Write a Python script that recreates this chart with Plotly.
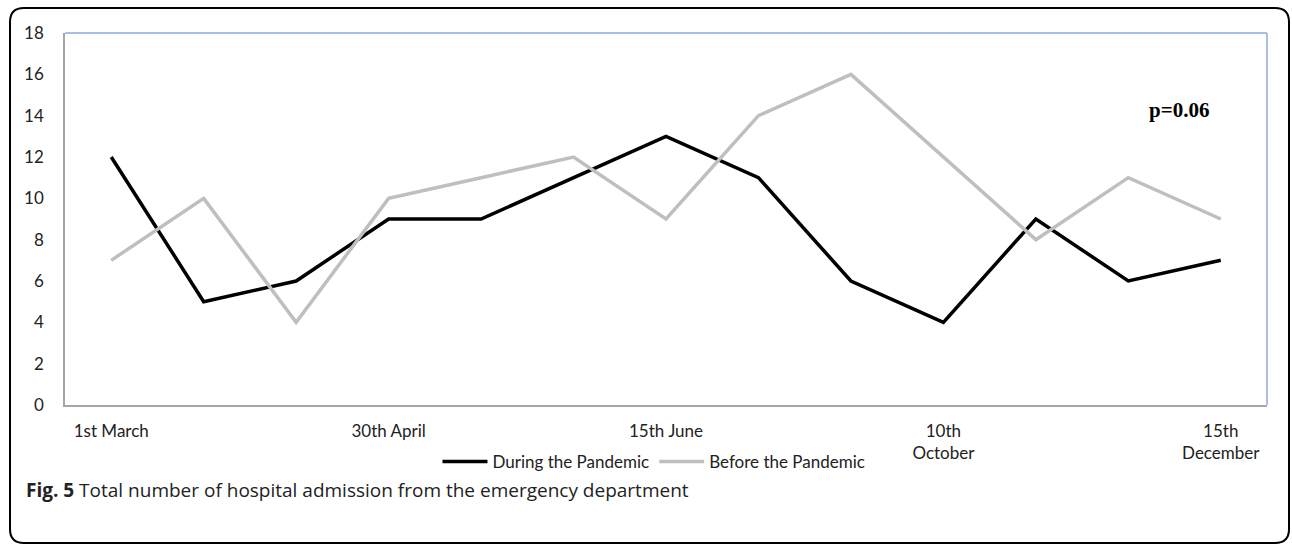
import plotly.graph_objects as go

categories = ["1st March", "c2", "c3", "30th April", "c5", "c6", "15th June",
              "c8", "c9", "10th<br>October", "c11", "c12", "15th<br>December"]
tick_labels = ["1st March", "", "", "30th April", "", "", "15th June",
               "", "", "10th<br>October", "", "", "15th<br>December"]
during = [12, 5, 6, 9, 9, 11, 13, 11, 6, 4, 9, 6, 7]
before = [7, 10, 4, 10, 11, 12, 9, 14, 16, 12, 8, 11, 9]

W, H = 1292, 546
L, R, T, B = 65, 25, 33, 141

fig = go.Figure()
fig.add_trace(go.Scatter(x=categories, y=during, mode="lines", name="During the Pandemic",
                         line=dict(color="black", width=3.5)))
fig.add_trace(go.Scatter(x=categories, y=before, mode="lines", name="Before the Pandemic",
                         line=dict(color="#bfbfbf", width=3.5)))

axfont = dict(family="Lato, Open Sans, sans-serif", size=17, color="#222")
pw, ph = W - L - R, H - T - B
fig.update_layout(
    width=W, height=H,
    margin=dict(l=L, r=R, t=T, b=B, autoexpand=False),
    paper_bgcolor="white", plot_bgcolor="white",
    showlegend=True,
    legend=dict(orientation="h", x=0.49, xanchor="center", y=-57 / ph, yanchor="middle",
                font=axfont, traceorder="normal", itemwidth=45),
    xaxis=dict(type="category", range=[-0.5, 12.5], tickmode="array",
               tickvals=categories, ticktext=tick_labels, showgrid=False,
               showline=True, linecolor="#a6a6a6", linewidth=1.5, ticks="",
               tickfont=axfont, mirror=False, ticklabelstandoff=10),
    yaxis=dict(range=[0, 18], dtick=2, showgrid=False, showline=True,
               linecolor="#a6a6a6", linewidth=1.5, ticks="", tickfont=axfont,
               ticklabelstandoff=16),
)
# blue border on top and right
fig.add_shape(type="line", xref="paper", yref="paper", x0=0, x1=1, y0=1, y1=1,
              line=dict(color="#8eaadb", width=1.5))
fig.add_shape(type="line", xref="paper", yref="paper", x0=1, x1=1, y0=0, y1=1,
              line=dict(color="#8eaadb", width=1.5))

fig.add_annotation(x=11.55, y=14.27, xref="x", yref="y", text="<b>p=0.06</b>", showarrow=False,
                   font=dict(family="Liberation Serif, serif", size=21, color="black"))

def px(x): return (x - L) / pw
def py(y): return (H - B - y) / ph
x0, x1, y0, y1, r = 10, 1289, 8, 543, 14
path = (f"M {px(x0+r)},{py(y0)} L {px(x1-r)},{py(y0)} "
        f"Q {px(x1)},{py(y0)} {px(x1)},{py(y0+r)} "
        f"L {px(x1)},{py(y1-r)} Q {px(x1)},{py(y1)} {px(x1-r)},{py(y1)} "
        f"L {px(x0+r)},{py(y1)} Q {px(x0)},{py(y1)} {px(x0)},{py(y1-r)} "
        f"L {px(x0)},{py(y0+r)} Q {px(x0)},{py(y0)} {px(x0+r)},{py(y0)} Z")
fig.add_shape(type="path", xref="paper", yref="paper", path=path,
              line=dict(color="black", width=2))

fig.add_annotation(xref="paper", yref="paper", x=px(24), y=py(490), xanchor="left",
                   yanchor="middle", showarrow=False,
                   text="<b>Fig. 5</b> Total number of hospital admission from the emergency department",
                   font=dict(family="Open Sans, sans-serif", size=19, color="#222"))

fig.write_html("out.html", config={"displayModeBar": False},
               post_script="document.body.style.margin='0';document.body.style.overflow='hidden';")
